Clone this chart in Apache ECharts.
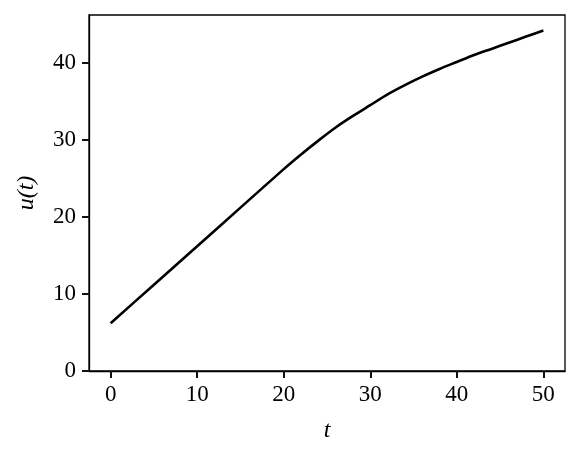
<!DOCTYPE html>
<html>
<head>
<meta charset="utf-8">
<script src="https://cdn.jsdelivr.net/npm/echarts@6/dist/echarts.min.js"></script>
<style>
    html, body { margin: 0; padding: 0; background: #fff; }
    #chart { width: 582px; height: 455px; }
</style>
</head>
<body>
<div id="chart"></div>
<script>
// Values
var tValues = [0, 5, 10, 15, 20, 22, 24, 26, 28, 30, 32, 34, 36, 38, 40, 42, 44, 46, 48, 50];
var uValues = [6.2, 11.2, 16.2, 21.2, 26.2, 28.1, 29.9, 31.6, 33.1, 34.5, 35.9, 37.1, 38.2, 39.2, 40.1, 41.0, 41.8, 42.6, 43.4, 44.2];
var xTicks = [0, 10, 20, 30, 40, 50];
var yTicks = [0, 10, 20, 30, 40];

var FONT = 'Liberation Serif';

var points = tValues.map(function(t, i) { return [t, uValues[i]]; });

var chart = echarts.init(document.getElementById('chart'));

var option = {
    animation: false,
    grid: { left: 89, right: 17, top: 15, bottom: 84, show: true, borderColor: '#000', borderWidth: 1.3 },
    xAxis: {
        type: 'value',
        min: -2.5,
        max: 52.5,
        name: 't',
        nameLocation: 'middle',
        nameGap: 48,
        nameTextStyle: { color: '#000', fontFamily: FONT, fontSize: 24, fontStyle: 'italic' },
        axisLine: { show: true, onZero: false, lineStyle: { color: '#000', width: 1.3 } },
        axisTick: { show: true, inside: false, length: 7, lineStyle: { color: '#111', width: 2 }, customValues: xTicks },
        axisLabel: { color: '#000', fontFamily: FONT, fontSize: 23, margin: 12, customValues: xTicks },
        splitLine: { show: false }
    },
    yAxis: {
        type: 'value',
        min: 0,
        max: 46.2,
        name: 'u(t)',
        nameLocation: 'middle',
        nameGap: 50,
        nameTextStyle: { color: '#000', fontFamily: FONT, fontSize: 24, fontStyle: 'italic' },
        axisLine: { show: true, onZero: false, lineStyle: { color: '#000', width: 1.3 } },
        axisTick: { show: true, inside: false, length: 7, lineStyle: { color: '#111', width: 2 }, customValues: yTicks },
        axisLabel: { color: '#000', fontFamily: FONT, fontSize: 23, margin: 13, customValues: yTicks },
        splitLine: { show: false }
    },
    series: [{
        type: 'line',
        data: points,
        smooth: 0.3,
        symbol: 'none',
        lineStyle: { color: '#000', width: 2.6 }
    }]
};

chart.setOption(option);
</script>
</body>
</html>
